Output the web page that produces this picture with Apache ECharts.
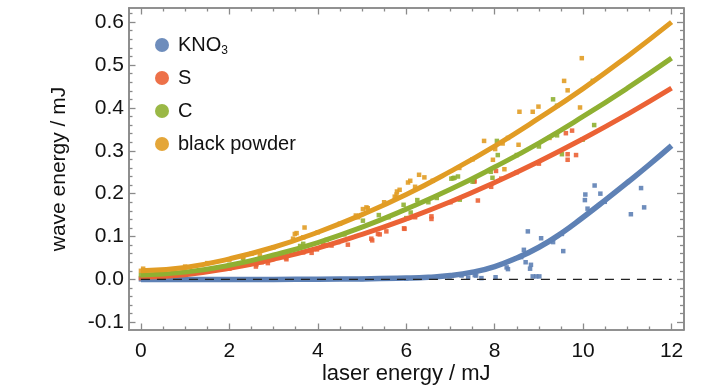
<!DOCTYPE html>
<html><head><meta charset="utf-8">
<script src="https://cdn.jsdelivr.net/npm/echarts@6/dist/echarts.min.js"></script>
<style>html,body{margin:0;padding:0;background:#fff}#c{width:728px;height:390px}</style>
</head><body><div id="c"></div>
<script>
// ---- data ----
const seriesNames = ['KNO3', 'S', 'C', 'black powder'];
const xTickValues = [0, 2, 4, 6, 8, 10, 12];
const yTickValues = [-0.1, 0, 0.1, 0.2, 0.3, 0.4, 0.5, 0.6];

// fitted curves
const fitX = [0, 1, 2, 3, 4, 5, 6, 7, 8, 9, 10, 11, 12];
const fitS = [0.005, 0.011, 0.026, 0.047, 0.073, 0.105, 0.141, 0.181, 0.226, 0.275, 0.328, 0.385, 0.446];
const fitC = [0.010, 0.017, 0.033, 0.057, 0.086, 0.122, 0.164, 0.210, 0.262, 0.318, 0.380, 0.446, 0.516];
const fitBP = [0.020, 0.028, 0.048, 0.075, 0.110, 0.151, 0.198, 0.252, 0.311, 0.376, 0.445, 0.520, 0.600];
const fitKX = [0, 1, 2, 3, 4, 5, 6, 6.5, 7, 7.5, 8, 8.5, 9, 9.5, 10, 10.5, 11, 11.5, 12];
const fitK = [0, 0, 0, 0, 0.0005, 0.001, 0.003, 0.005, 0.009, 0.017, 0.030, 0.050, 0.075, 0.107, 0.145, 0.185, 0.226, 0.268, 0.312];

// measured points
const ptsK = [[0,0],[1,0],[2,0],[3,0],[4,0],[5,0.001],[6,0.002],[6.98,0.007],[7.25,0.009],[7.4,0.004],[7.55,0.010],[7.58,0.009],[7.7,0.003],[8.02,0.005],[8.27,0.028],[8.3,0.024],[8.6,0.052],[8.66,0.069],[8.7,0.040],[8.75,0.112],[8.8,0.025],[8.82,0.034],[8.86,0.007],[8.94,0.007],[9.01,0.007],[9.05,0.096],[9.32,0.087],[9.52,0.106],[9.55,0.066],[10.04,0.185],[10.05,0.198],[10.1,0.165],[10.26,0.219],[10.39,0.200],[10.49,0.181],[11.08,0.152],[11.31,0.213],[11.38,0.168]];
const ptsS = [[0,0.003],[1,0.010],[2,0.025],[2.6,0.030],[2.61,0.035],[2.73,0.040],[2.87,0.038],[3.03,0.051],[3.28,0.050],[3.29,0.047],[3.67,0.063],[3.86,0.062],[3.98,0.070],[4.12,0.081],[4.19,0.079],[4.31,0.079],[4.46,0.087],[4.68,0.081],[5.21,0.095],[5.23,0.091],[5.36,0.106],[5.4,0.105],[5.55,0.112],[5.95,0.119],[5.96,0.118],[6.2,0.145],[6.57,0.147],[6.57,0.141],[7.0,0.180],[7.54,0.230],[7.54,0.228],[7.62,0.184],[7.92,0.216],[8.03,0.253],[8.15,0.235],[8.5,0.250],[9.0,0.270],[9.61,0.341],[9.65,0.292],[9.65,0.279],[9.75,0.347],[9.84,0.290]];
const ptsC = [[0,0.010],[1,0.018],[2,0.034],[2.31,0.050],[2.7,0.048],[3.0,0.052],[3.6,0.078],[3.67,0.083],[4.2,0.092],[4.6,0.105],[5.02,0.137],[5.38,0.150],[5.6,0.145],[5.94,0.174],[6.0,0.143],[6.1,0.156],[6.25,0.185],[6.5,0.180],[6.69,0.190],[7.02,0.235],[7.06,0.236],[7.09,0.237],[7.17,0.240],[7.21,0.186],[7.5,0.228],[7.91,0.251],[7.95,0.237],[8.05,0.323],[8.07,0.290],[8.5,0.290],[9.0,0.310],[9.32,0.420],[9.41,0.405],[9.41,0.336],[9.52,0.292],[9.99,0.326],[10.22,0.463],[10.25,0.360]];
const ptsBP = [[0,0.020],[0.05,0.025],[1.0,0.030],[1.5,0.038],[2.0,0.046],[2.31,0.052],[2.5,0.060],[2.69,0.056],[3.0,0.075],[3.44,0.095],[3.48,0.106],[3.52,0.108],[3.67,0.098],[3.7,0.121],[4.0,0.110],[4.5,0.130],[4.86,0.149],[4.91,0.145],[5.02,0.164],[5.1,0.168],[5.13,0.166],[5.5,0.180],[5.74,0.193],[5.78,0.198],[5.79,0.205],[5.85,0.209],[6.04,0.226],[6.09,0.230],[6.2,0.216],[6.29,0.244],[6.41,0.238],[6.6,0.230],[7.2,0.260],[7.5,0.280],[7.76,0.323],[7.96,0.279],[8.01,0.304],[8.18,0.317],[8.22,0.257],[8.3,0.330],[8.54,0.314],[8.56,0.391],[8.86,0.391],[8.99,0.403],[9.24,0.330],[9.57,0.463],[9.65,0.441],[9.93,0.401],[9.97,0.516]];
const zeroLineX = [0, 12];
const zeroLineY = [0, 0];

// ---- styling ----
const FONT = "'Liberation Sans', Arial, sans-serif";
const COLORS = {'KNO3': '#5E81B5', 'S': '#EB6235', 'C': '#8FB032', 'black powder': '#E19C24'};
const FRAME = '#8a8a8a';
const TEXT = '#111';
const X_MIN = -0.27, X_MAX = 12.27, Y_MIN = -0.118, Y_MAX = 0.633;

function range(a, b, step, skip) {
  const out = [];
  for (let v = a; v <= b + 1e-9; v += step) {
    const r = Math.round(v * 1000) / 1000;
    if (!skip.some(s => Math.abs(s - r) < 1e-6)) out.push(r);
  }
  return out;
}
const xMinor = range(0, 12.0, 0.5, xTickValues);
const yMinor = range(-0.1, 0.62, 0.02, yTickValues);

function xAx(pos, ticks, len, labels, extra) {
  return Object.assign({
    type: 'value', position: pos, min: X_MIN, max: X_MAX,
    axisLine: {show: true, onZero: false, lineStyle: {color: FRAME, width: 1.6}},
    axisTick: {show: true, inside: true, length: len, customValues: ticks, lineStyle: {color: FRAME, width: 1.3}},
    axisLabel: labels ? {show: true, customValues: ticks, fontFamily: FONT, fontSize: 21, color: TEXT, margin: 11} : {show: false},
    splitLine: {show: false}
  }, extra || {});
}
function yAx(pos, ticks, len, labels, extra) {
  return Object.assign({
    type: 'value', position: pos, min: Y_MIN, max: Y_MAX,
    axisLine: {show: true, onZero: false, lineStyle: {color: FRAME, width: 1.6}},
    axisTick: {show: true, inside: true, length: len, customValues: ticks, lineStyle: {color: FRAME, width: 1.3}},
    axisLabel: labels ? {show: true, customValues: ticks, fontFamily: FONT, fontSize: 21, color: TEXT, margin: 5,
      formatter: v => v.toFixed(1)} : {show: false},
    splitLine: {show: false}
  }, extra || {});
}

const zip = (xs, ys) => xs.map((x, i) => [x, ys[i]]);

const series = [];
const pts = {'KNO3': ptsK, 'S': ptsS, 'C': ptsC, 'black powder': ptsBP};
seriesNames.forEach(n => {
  series.push({name: n, type: 'scatter', data: pts[n], symbol: 'rect', symbolSize: 4.5,
    itemStyle: {color: COLORS[n], opacity: 0.9}, z: 2, silent: true});
});
const fits = {'KNO3': zip(fitKX, fitK), 'S': zip(fitX, fitS), 'C': zip(fitX, fitC), 'black powder': zip(fitX, fitBP)};
seriesNames.forEach(n => {
  series.push({name: n, type: 'line', data: fits[n], smooth: 0.5, showSymbol: false,
    lineStyle: {color: COLORS[n], width: n === 'KNO3' ? 5.5 : 5}, itemStyle: {color: COLORS[n]}, z: 3, silent: true});
});
series.push({name: 'zero', type: 'line', data: zip(zeroLineX, zeroLineY), showSymbol: false,
  lineStyle: {color: '#222', width: 1.2, type: [9, 7]}, z: 5, silent: true});

const chart = echarts.init(document.getElementById('c'), null, {renderer: 'canvas'});
chart.setOption({
  animation: false,
  backgroundColor: '#fff',
  grid: {left: 129, right: 44.5, top: 8, bottom: 60, containLabel: false},
  xAxis: [
    xAx('bottom', xTickValues, 6.5, true, {name: 'laser energy / mJ', nameLocation: 'middle', nameGap: 33, nameMoveOverlap: false,
      nameTextStyle: {fontFamily: FONT, fontSize: 22, color: TEXT}}),
    xAx('bottom', xMinor, 3.5, false),
    xAx('top', xTickValues, 6.5, false),
    xAx('top', xMinor, 3.5, false)
  ],
  yAxis: [
    yAx('left', yTickValues, 6.5, true, {name: 'wave energy / mJ', nameLocation: 'middle', nameGap: 59, nameMoveOverlap: false,
      nameTextStyle: {fontFamily: FONT, fontSize: 21, color: TEXT}}),
    yAx('left', yMinor, 3.5, false),
    yAx('right', yTickValues, 6.5, false),
    yAx('right', yMinor, 3.5, false)
  ],
  legend: {
    data: seriesNames.map(n => ({name: n, icon: 'circle'})),
    orient: 'vertical', left: 150, top: 28, itemWidth: 22, itemHeight: 14, itemGap: 9,
    selectedMode: false,
    formatter: n => n === 'KNO3' ? '{a|KNO}{b|3}' : '{a|' + n + '}',
    textStyle: {fontFamily: FONT, fontSize: 20, color: TEXT, lineHeight: 24,
      rich: {a: {fontFamily: FONT, fontSize: 20, color: TEXT, lineHeight: 24},
             b: {fontFamily: FONT, fontSize: 12, color: TEXT, lineHeight: 24, verticalAlign: 'bottom', padding: [11, 0, 0, 0]}}}
  },
  series: series
});
</script></body></html>
